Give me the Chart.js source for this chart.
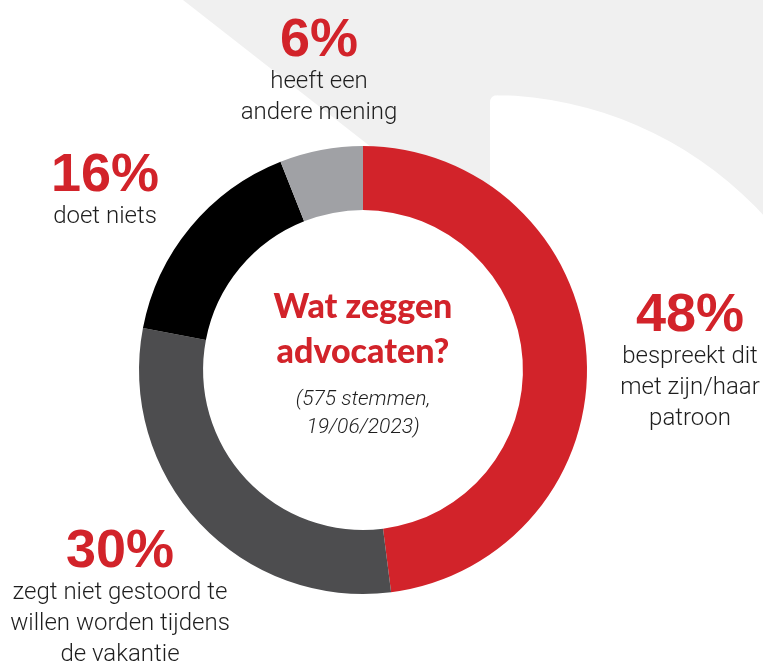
<!DOCTYPE html>
<html>
<head>
<meta charset="utf-8">
<script src="https://cdn.jsdelivr.net/npm/chart.js@4"></script>
<style>
  html, body { margin: 0; padding: 0; background: #fff; }
  #wrap { width: 763px; height: 661px; position: relative; }
</style>
</head>
<body>
<div id="wrap"><canvas id="graficoAdvocaten"></canvas></div>
<script>
// data
var categorias = ['bespreekt dit met zijn/haar patroon', 'zegt niet gestoord te willen worden tijdens de vakantie', 'doet niets', 'heeft een andere mening'];
var percentagens = [48, 30, 16, 6];
var linhasTexto = [
    ['bespreekt dit', 'met zijn/haar', 'patroon'],
    ['zegt niet gestoord te', 'willen worden tijdens', 'de vakantie'],
    ['doet niets'],
    ['heeft een', 'andere mening']
];
var cores = ['#d2232a', '#4d4d4f', '#000000', '#a0a1a5'];
var titulo = ['Wat zeggen', 'advocaten?'];
var subtitulo = ['(575 stemmen,', '19/06/2023)'];

// where each label block sits (x centre, y of the big number)
var posicoes = [
    { x: 690, y: 312 },
    { x: 120, y: 548 },
    { x: 105, y: 172 },
    { x: 319, y: 37 }
];

var fundo = {
    id: 'fundo',
    beforeDraw: function (chart) {
        var ctx = chart.ctx;
        ctx.save();
        ctx.fillStyle = '#f0f0f0';
        ctx.beginPath();
        ctx.moveTo(183, 0);
        ctx.lineTo(763, 0);
        ctx.lineTo(763, 240);
        ctx.lineTo(490, 240);
        ctx.closePath();
        ctx.fill();
        // white quarter shape
        ctx.fillStyle = '#ffffff';
        ctx.beginPath();
        ctx.moveTo(490, 466);
        ctx.lineTo(490, 103);
        ctx.quadraticCurveTo(490, 95, 498, 95);
        ctx.arc(490, 466, 371, -Math.PI / 2 + 0.02, 0, false);
        ctx.closePath();
        ctx.fill();
        ctx.restore();
    }
};

var textos = {
    id: 'textos',
    afterDraw: function (chart) {
        var ctx = chart.ctx;
        ctx.save();
        ctx.textAlign = 'center';
        ctx.textBaseline = 'alphabetic';
        var indice = 0;
        while (indice < percentagens.length) {
            var p = posicoes[indice];
            ctx.fillStyle = '#d2232a';
            ctx.font = 'bold 54px "Liberation Sans", Arial, sans-serif';
            ctx.fillText(percentagens[indice] + '%', p.x, p.y + 19);
            ctx.fillStyle = '#1e1e1e';
            ctx.font = '300 24px Roboto, sans-serif';
            for (var j = 0; j < linhasTexto[indice].length; j++) {
                ctx.fillText(linhasTexto[indice][j], p.x, p.y + 51 + j * 31);
            }
            indice++;
        }
        var cx = 363;
        ctx.fillStyle = '#d2232a';
        ctx.font = '900 34px Lato, sans-serif';
        ctx.fillText(titulo[0], cx, 318);
        ctx.fillText(titulo[1], cx, 363);
        ctx.fillStyle = '#1e1e1e';
        ctx.font = 'italic 300 21px Roboto, sans-serif';
        ctx.fillText(subtitulo[0], cx, 405);
        ctx.fillText(subtitulo[1], cx, 433);
        ctx.restore();
    }
};

new Chart(document.getElementById('graficoAdvocaten'), {
    type: 'doughnut',
    data: {
        labels: categorias,
        datasets: [{
            data: percentagens,
            backgroundColor: cores,
            borderWidth: 0,
            hoverOffset: 0
        }]
    },
    options: {
        responsive: true,
        maintainAspectRatio: false,
        animation: false,
        cutout: '71.4%',
        layout: { padding: { left: 139, right: 176, top: 146, bottom: 67 } },
        plugins: {
            legend: { display: false },
            tooltip: { enabled: false }
        }
    },
    plugins: [fundo, textos]
});
</script>
</body>
</html>
